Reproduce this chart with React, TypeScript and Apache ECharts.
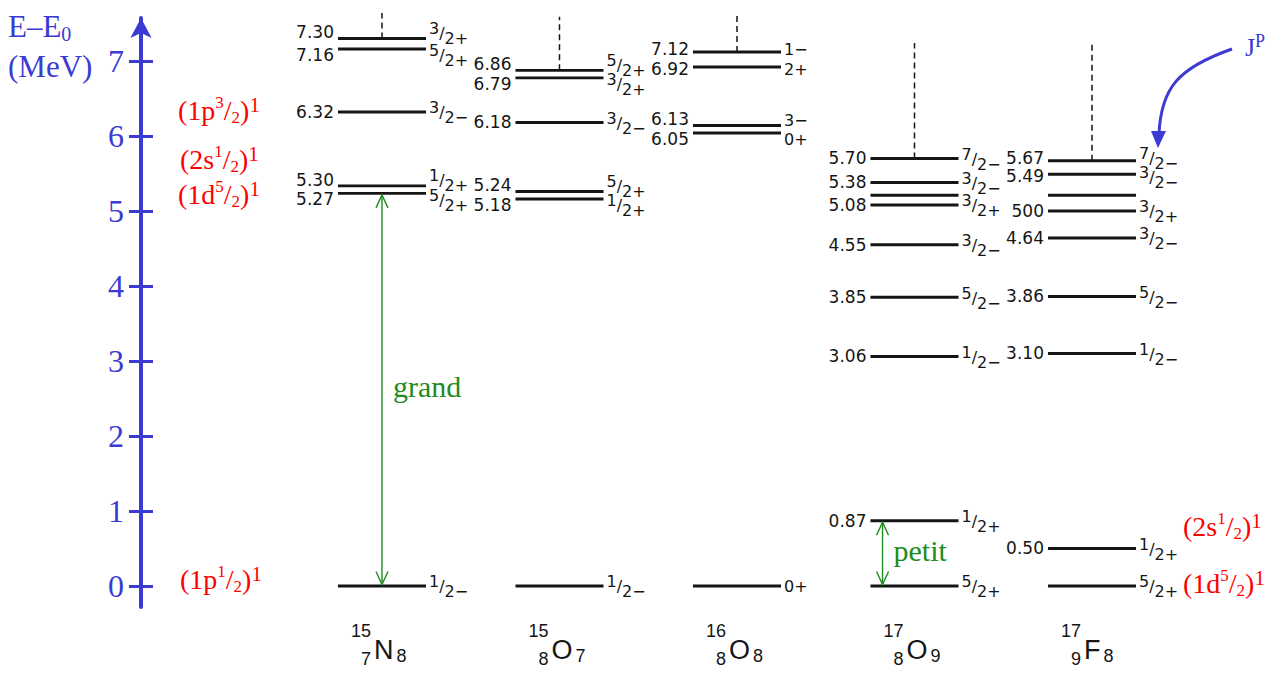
import React, { useEffect, useRef } from "react";
import * as echarts from "echarts";

// ---------- data ----------
const nuclideSymbols = ["N", "O", "O", "O", "F"];
const massNumbers = ["15", "15", "16", "17", "17"];
const protonNumbers = ["7", "8", "8", "8", "9"];
const neutronNumbers = ["8", "7", "8", "9", "8"];

const n15Energies = [0, 5.27, 5.3, 6.32, 7.16, 7.3];
const n15Labels = ["", "5.27", "5.30", "6.32", "7.16", "7.30"];
const n15Spins = ["1/2−", "5/2+", "1/2+", "3/2−", "5/2+", "3/2+"];

const o15Energies = [0, 5.18, 5.24, 6.18, 6.79, 6.86];
const o15Labels = ["", "5.18", "5.24", "6.18", "6.79", "6.86"];
const o15Spins = ["1/2−", "1/2+", "5/2+", "3/2−", "3/2+", "5/2+"];

const o16Energies = [0, 6.05, 6.13, 6.92, 7.12];
const o16Labels = ["", "6.05", "6.13", "6.92", "7.12"];
const o16Spins = ["0+", "0+", "3−", "2+", "1−"];

const o17Energies = [0, 0.87, 3.06, 3.85, 4.55, 5.08, 5.21, 5.38, 5.7];
const o17Labels = ["", "0.87", "3.06", "3.85", "4.55", "5.08", "", "5.38", "5.70"];
const o17Spins = ["5/2+", "1/2+", "1/2−", "5/2−", "3/2−", "3/2+", "", "3/2−", "7/2−"];

const f17Energies = [0, 0.5, 3.1, 3.86, 4.64, 5.0, 5.21, 5.49, 5.67];
const f17Labels = ["", "0.50", "3.10", "3.86", "4.64", "500", "", "5.49", "5.67"];
const f17Spins = ["5/2+", "1/2+", "1/2−", "5/2−", "3/2−", "3/2+", "", "3/2−", "7/2−"];

const continuumTops = [7.64, 7.59, 7.64, 7.24, 7.24];

const yTicks = [0, 1, 2, 3, 4, 5, 6, 7];

const gapArrowColumns = [0, 3];
const gapArrowLower = [0, 0];
const gapArrowUpper = [5.27, 0.87];
const gapArrowTexts = ["grand", "petit"];

// ---------- layout / style constants ----------
const BLUE = "#3b3bd3";
const RED = "#ff0000";
const GREEN = "#1e8c1e";
const INK = "#151515";
const SERIF = "Liberation Serif";
const SANS = "DejaVu Sans";
const HALF = 0.248;
const MIN_GAP = 0.1;
const ARROW_SHIFT = [0, -0.18];
const NUCLIDE_LABEL_E = -0.85;

type Level = { col: number; energy: number; disp: number; label: string; spin: string; shift: number };

const columns = [
  { e: n15Energies, l: n15Labels, s: n15Spins },
  { e: o15Energies, l: o15Labels, s: o15Spins },
  { e: o16Energies, l: o16Labels, s: o16Spins },
  { e: o17Energies, l: o17Labels, s: o17Spins },
  { e: f17Energies, l: f17Labels, s: f17Spins },
];

const levels: Level[] = [];
columns.forEach((c, col) => {
  const items: Level[] = c.e.map((e, k) => ({ col, energy: e, disp: e, label: c.l[k], spin: c.s[k], shift: 0 }));
  items.sort((a, b) => a.energy - b.energy);
  for (let k = 1; k < items.length; k++) {
    const lo = items[k - 1];
    const hi = items[k];
    if (hi.energy - lo.energy < MIN_GAP) {
      const mid = (hi.energy + lo.energy) / 2;
      lo.disp = mid - MIN_GAP / 2;
      hi.disp = mid + MIN_GAP / 2;
    }
  }
  for (let k = 1; k < items.length; k++) {
    const lo = items[k - 1];
    const hi = items[k];
    if (!lo.label || !hi.label) continue;
    const g = hi.disp - lo.disp;
    if (g < 0.15) {
      lo.shift = 6;
      hi.shift = -6;
    } else if (g < 0.21) {
      lo.shift = 2;
      hi.shift = -3;
    }
  }
  levels.push(...items);
});

const dispOf = (col: number, e: number) => {
  const lv = levels.find((l) => l.col === col && Math.abs(l.energy - e) < 1e-9);
  return lv ? lv.disp : e;
};
const topDisp = (col: number) => Math.max(...levels.filter((l) => l.col === col).map((l) => l.disp));

const spinText = (spin: string) => {
  const tok = { fontFamily: SANS, fontSize: 16, fill: INK };
  if (spin.includes("/")) {
    const [num, rest] = spin.split("/");
    return {
      text: `{a|${num}}{b|/}{c|${rest}}`,
      rich: {
        a: { ...tok, lineHeight: 14, verticalAlign: "top" },
        b: { ...tok, lineHeight: 26, verticalAlign: "middle" },
        c: { ...tok, lineHeight: 14, verticalAlign: "bottom" },
      },
    };
  }
  return { text: `{p|${spin}}`, rich: { p: { ...tok, lineHeight: 20, verticalAlign: "middle" } } };
};

const shellRich = {
  m: { fontFamily: SERIF, fontSize: 28, lineHeight: 32, verticalAlign: "middle", fill: RED },
  u: { fontFamily: SERIF, fontSize: 17, lineHeight: 17, verticalAlign: "top", fill: RED },
  d: { fontFamily: SERIF, fontSize: 17, lineHeight: 17, verticalAlign: "bottom", fill: RED },
  o: { fontFamily: SERIF, fontSize: 21, lineHeight: 21, verticalAlign: "top", fill: RED },
};
const shellText = (pre: string, num: string, den: string) =>
  `{m|(${pre}}{u|${num}}{m|/}{d|${den}}{m|)}{o|1}`;

const shellLabels = [
  { x: 178, y: 110, t: shellText("1p", "3", "2") },
  { x: 180, y: 159, t: shellText("2s", "1", "2") },
  { x: 178, y: 194, t: shellText("1d", "5", "2") },
  { x: 180, y: 579, t: shellText("1p", "1", "2") },
  { x: 1183, y: 526, t: shellText("2s", "1", "2") },
  { x: 1183, y: 583, t: shellText("1d", "5", "2") },
];

export default function App() {
  const ref = useRef<HTMLDivElement>(null);
  useEffect(() => {
    if (!ref.current) return;
    const chart = echarts.init(ref.current, null, { renderer: "svg" });
    const yMin = -0.28;
    const yMax = 7.5733;
    const option: any = {
      animation: false,
      backgroundColor: "#ffffff",
      grid: { left: 141, right: 0, top: 18, bottom: 68 },
      xAxis: { type: "value", min: -1.3577, max: 5.093, show: false },
      yAxis: [
        {
          type: "value",
          min: yMin,
          max: yMax,
          position: "left",
          splitLine: { show: false },
          axisLine: {
            show: true,
            onZero: false,
            lineStyle: { color: BLUE, width: 4 },
            symbol: ["none", "arrow"],
            symbolSize: [16, 20],
          },
          axisTick: { show: true, inside: false, length: 12, lineStyle: { color: BLUE, width: 3 }, customValues: yTicks },
          axisLabel: { show: true, customValues: yTicks, color: BLUE, fontFamily: SERIF, fontSize: 32, margin: 17 },
        },
        {
          type: "value",
          min: yMin,
          max: yMax,
          position: "left",
          offset: 0,
          splitLine: { show: false },
          axisLine: { show: false, onZero: false },
          axisTick: { show: true, inside: true, length: 12, lineStyle: { color: BLUE, width: 3 }, customValues: yTicks },
          axisLabel: { show: false },
        },
      ],
      series: [
        {
          type: "custom",
          name: "continuum",
          data: continuumTops.map((t, col) => [col, topDisp(col), t]),
          renderItem: (params: any, api: any) => {
            const a = api.coord([api.value(0), api.value(1)]);
            const b = api.coord([api.value(0), api.value(2)]);
            return {
              type: "line",
              shape: { x1: a[0], y1: a[1], x2: b[0], y2: b[1] },
              style: { stroke: INK, lineWidth: 1.5, lineDash: [6, 4] },
            };
          },
        },
        {
          type: "custom",
          name: "levels",
          data: levels.map((l) => [l.col, l.disp]),
          renderItem: (params: any, api: any) => {
            const lv = levels[params.dataIndex];
            const p0 = api.coord([api.value(0) - HALF, api.value(1)]);
            const p1 = api.coord([api.value(0) + HALF, api.value(1)]);
            const children: any[] = [
              {
                type: "line",
                shape: { x1: p0[0], y1: p0[1], x2: p1[0], y2: p1[1] },
                style: { stroke: INK, lineWidth: 2.8 },
              },
            ];
            if (lv.label) {
              children.push({
                type: "text",
                x: p0[0] - 4,
                y: p0[1] + lv.shift,
                style: {
                  text: lv.label,
                  align: "right",
                  verticalAlign: "middle",
                  fontFamily: SANS,
                  fontSize: 17,
                  fill: INK,
                },
              });
            }
            if (lv.spin) {
              const st = spinText(lv.spin);
              children.push({
                type: "text",
                x: p1[0] + 3,
                y: p1[1] + lv.shift + 1,
                style: { ...st, align: "left", verticalAlign: "middle", fontFamily: SANS, fontSize: 16, fill: INK },
              });
            }
            return { type: "group", children };
          },
        },
        {
          type: "custom",
          name: "gaps",
          data: gapArrowColumns.map((c, k) => [c + ARROW_SHIFT[k], dispOf(c, gapArrowLower[k]), dispOf(c, gapArrowUpper[k])]),
          renderItem: (params: any, api: any) => {
            const k = params.dataIndex;
            const top = api.coord([api.value(0), api.value(2)]);
            const bot = api.coord([api.value(0), api.value(1)]);
            const x = top[0];
            const yT = top[1] + 1.5;
            const yB = bot[1] - 1.5;
            const st = { stroke: GREEN, lineWidth: 1.4, fill: "none" };
            return {
              type: "group",
              children: [
                { type: "line", shape: { x1: x, y1: yT, x2: x, y2: yB }, style: st },
                { type: "polyline", shape: { points: [[x - 6, yT + 13], [x, yT], [x + 6, yT + 13]] }, style: st },
                { type: "polyline", shape: { points: [[x - 6, yB - 13], [x, yB], [x + 6, yB - 13]] }, style: st },
                {
                  type: "text",
                  x: x + 11,
                  y: (yT + yB) / 2 - 3,
                  style: {
                    text: gapArrowTexts[k],
                    align: "left",
                    verticalAlign: "middle",
                    fontFamily: SERIF,
                    fontSize: 30,
                    fill: GREEN,
                  },
                },
              ],
            };
          },
        },
        {
          type: "custom",
          name: "nuclides",
          data: nuclideSymbols.map((_, col) => [col, NUCLIDE_LABEL_E]),
          renderItem: (params: any, api: any) => {
            const i = params.dataIndex;
            const p = api.coord([api.value(0), api.value(1)]);
            return {
              type: "group",
              children: [
                {
                  type: "text",
                  x: p[0] - 11,
                  y: p[1] - 33,
                  style: {
                    text: `${massNumbers[i]}\n${protonNumbers[i]}`,
                    align: "right",
                    verticalAlign: "top",
                    fontFamily: "Liberation Sans",
                    fontSize: 18,
                    lineHeight: 28,
                    fill: INK,
                  },
                },
                {
                  type: "text",
                  x: p[0] - 8,
                  y: p[1],
                  style: {
                    text: `{s|${nuclideSymbols[i]}}{n|${neutronNumbers[i]}}`,
                    align: "left",
                    verticalAlign: "middle",
                    fontFamily: "Liberation Sans",
                    fontSize: 27,
                    fill: INK,
                    rich: {
                      s: { fontFamily: "Liberation Sans", fontSize: 27, fill: INK, lineHeight: 30, verticalAlign: "middle", padding: [0, 3, 0, 0] },
                      n: { fontFamily: "Liberation Sans", fontSize: 18, fill: INK, lineHeight: 16, verticalAlign: "bottom" },
                    },
                  },
                },
              ],
            };
          },
        },
      ],
      graphic: [
        {
          type: "text",
          x: 8,
          y: 26,
          style: {
            text: "{a|E–E}{b|0}",
            verticalAlign: "middle",
            align: "left",
            fontFamily: SERIF,
            fontSize: 31,
            fill: BLUE,
            rich: {
              a: { fontFamily: SERIF, fontSize: 31, fill: BLUE, lineHeight: 36, verticalAlign: "middle" },
              b: { fontFamily: SERIF, fontSize: 20, fill: BLUE, lineHeight: 20, verticalAlign: "bottom" },
            },
          },
        },
        {
          type: "text",
          x: 8,
          y: 66,
          style: { text: "(MeV)", verticalAlign: "middle", align: "left", fontFamily: SERIF, fontSize: 31, fill: BLUE },
        },
        ...shellLabels.map((s) => ({
          type: "text",
          x: s.x,
          y: s.y,
          style: { text: s.t, rich: shellRich, align: "left", verticalAlign: "middle", fontFamily: SERIF, fontSize: 28, fill: RED },
        })),
        {
          type: "bezierCurve",
          shape: { x1: 1232, y1: 49, cpx1: 1178, cpy1: 68, cpx2: 1161, cpy2: 88, x2: 1159, y2: 134 },
          style: { stroke: BLUE, lineWidth: 3, fill: "none" },
        },
        {
          type: "polygon",
          shape: { points: [[1151, 131], [1166, 131], [1158, 148]] },
          style: { fill: BLUE },
        },
        {
          type: "text",
          x: 1245,
          y: 47,
          style: {
            text: "{j|J}{p|P}",
            align: "left",
            verticalAlign: "middle",
            fontFamily: SERIF,
            fontSize: 26,
            fill: BLUE,
            rich: {
              j: { fontFamily: SERIF, fontSize: 26, fill: BLUE, lineHeight: 30, verticalAlign: "middle" },
              p: { fontFamily: SERIF, fontSize: 18, fill: BLUE, lineHeight: 18, verticalAlign: "top" },
            },
          },
        },
      ],
    };
    chart.setOption(option);
    return () => chart.dispose();
  }, []);
  return (
    <div
      ref={ref}
      style={{ position: "fixed", left: 0, top: 0, width: 1286, height: 675, background: "#fff" }}
    />
  );
}
